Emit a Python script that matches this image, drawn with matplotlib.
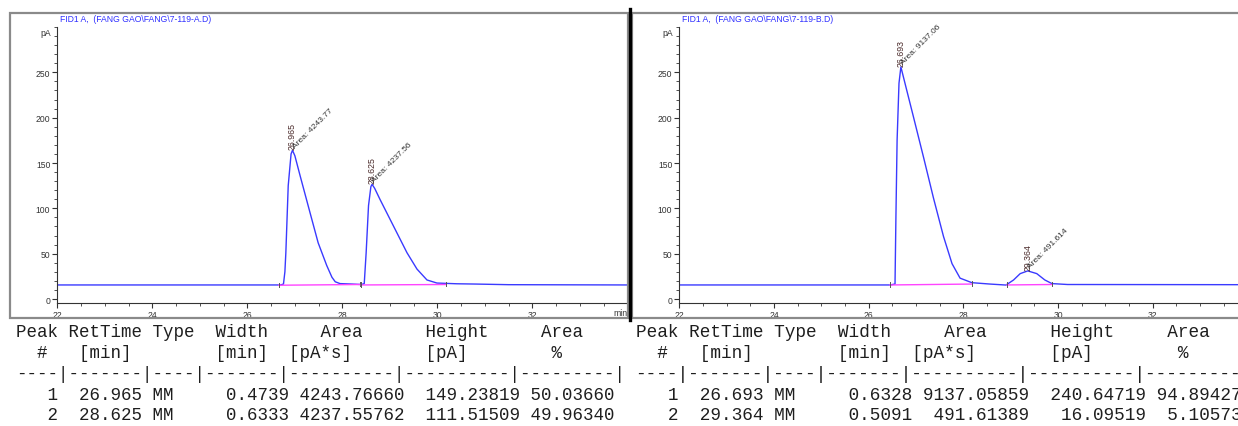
import matplotlib
matplotlib.use("Agg")
import matplotlib.pyplot as plt
from matplotlib.patches import Rectangle
from matplotlib.lines import Line2D
from matplotlib.ticker import MultipleLocator

W, H = 1238, 427

# ---- trace A (left) : retention time [min], signal [pA]
timeA = [22.0, 26.70, 26.76, 26.79, 26.81, 26.86, 26.92, 26.95, 27.00, 27.11, 27.32,
         27.49, 27.67, 27.78, 27.85, 27.95, 28.20, 28.40, 28.46, 28.50, 28.55, 28.60,
         28.625, 28.68, 28.79, 29.07, 29.36, 29.57, 29.78, 29.99, 30.41, 30.8, 31.5, 34.0]
sigA = [15.5, 15.5, 16.5, 30, 51, 125, 160, 164, 158, 136, 95,
        62, 37, 24, 19, 17, 16.5, 16, 17, 51, 103, 124,
        126.5, 122, 110, 81, 51, 33, 21, 17.6, 16.8, 16.5, 15.8, 15.5]
baseA = [[(26.66, 15.2), (28.38, 16.0)], [(28.40, 15.5), (30.18, 16.0)]]
peaksA_rt = ["26.965", "28.625"]
peaksA_area = ["Area: 4243.77", "Area: 4237.56"]
peaksA_pos = [(26.95, 164), (28.625, 126.5)]

# ---- trace B (right)
timeB = [22.0, 26.45, 26.556, 26.575, 26.60, 26.64, 26.68, 26.80, 26.94, 27.16, 27.37,
         27.58, 27.76, 27.93, 28.18, 28.56, 28.90, 29.06, 29.20, 29.36, 29.55, 29.72,
         29.87, 30.2, 33.8]
sigB = [15.5, 15.5, 16.5, 90, 175, 238, 256, 231, 202, 156, 111,
        69, 39, 23, 18, 16.5, 15.4, 21, 28, 31, 28, 21,
        17, 16, 15.8]
baseB = [[(26.45, 15.5), (28.18, 16.5)], [(28.92, 15.5), (29.87, 16.0)]]
peaksB_rt = ["26.693", "29.364"]
peaksB_area = ["Area: 9137.06", "Area: 491.614"]
peaksB_pos = [(26.68, 256), (29.36, 31)]

titles = ["FID1 A,  (FANG GAO\\FANG\\7-119-A.D)", "FID1 A,  (FANG GAO\\FANG\\7-119-B.D)"]

# ---- peak tables
tableA = [
    "Peak RetTime Type  Width     Area      Height     Area  ",
    "  #   [min]        [min]  [pA*s]       [pA]        %    ",
    "----|-------|----|-------|----------|----------|---------|",
    "   1  26.965 MM     0.4739 4243.76660  149.23819 50.03660",
    "   2  28.625 MM     0.6333 4237.55762  111.51509 49.96340",
]
tableB = [
    "Peak RetTime Type  Width     Area      Height     Area  ",
    "  #   [min]        [min]  [pA*s]       [pA]        %    ",
    "----|-------|----|-------|----------|----------|---------|",
    "   1  26.693 MM     0.6328 9137.05859  240.64719 94.89427",
    "   2  29.364 MM     0.5091  491.61389   16.09519  5.10573",
]


def fx(x):
    return x / W


def fy(y):
    return 1 - y / H


fig = plt.figure(figsize=(W / 100, H / 100), dpi=100)
fig.patch.set_facecolor("white")

# outer gray frames and the black divider
fig.add_artist(Rectangle((fx(10), fy(319)), fx(628) - fx(10), fy(14) - fy(319),
                         fill=False, edgecolor="#8a8a8a", linewidth=1.6,
                         transform=fig.transFigure))
fig.add_artist(Rectangle((fx(632), fy(319)), fx(1245) - fx(632), fy(14) - fy(319),
                         fill=False, edgecolor="#8a8a8a", linewidth=1.6,
                         transform=fig.transFigure))
fig.add_artist(Line2D([fx(629.5), fx(629.5)], [fy(10), fy(321)], color="black",
                      linewidth=2.4, transform=fig.transFigure))


def panel(left_px, right_px, xmax, t, s, bases, rts, areas, pos, title):
    ax = fig.add_axes([fx(left_px), fy(304), fx(right_px) - fx(left_px), fy(28) - fy(304)])
    ax.set_xlim(22, xmax)
    ax.set_ylim(-4.4, 300)
    ax.plot(t, s, color="#3a3aff", linewidth=1.0)
    for seg in bases:
        (x0, y0), (x1, y1) = seg
        ax.plot([x0, x1], [y0, y1], color="#ff44ff", linewidth=1.0)
        ax.plot([x0, x0], [y0 - 2, y0 + 3], color="#555555", linewidth=0.7)
        ax.plot([x1, x1], [y1 - 2, y1 + 3], color="#555555", linewidth=0.7)
    for rt, area, (px, py) in zip(rts, areas, pos):
        ax.text(px, py + 1, rt, rotation=90, ha="center", va="bottom",
                fontsize=6.3, color="#4a2a2a", family="Liberation Sans")
        ax.annotate(area, (px, py), xytext=(2.5, 1), textcoords="offset points",
                    rotation=45, rotation_mode="anchor", ha="left", va="bottom",
                    fontsize=6.1, color="#333333", family="Liberation Sans")
    for side in ("top", "right"):
        ax.spines[side].set_visible(False)
    for side in ("left", "bottom"):
        ax.spines[side].set_color("#333333")
        ax.spines[side].set_linewidth(0.8)
    ax.xaxis.set_major_locator(MultipleLocator(2))
    ax.xaxis.set_minor_locator(MultipleLocator(0.5))
    ax.yaxis.set_major_locator(MultipleLocator(50))
    ax.yaxis.set_minor_locator(MultipleLocator(10))
    ax.set_yticks([0, 50, 100, 150, 200, 250])
    ax.tick_params(which="major", length=3.5, width=0.8, colors="#333333",
                   labelsize=6.2, pad=1.5)
    ax.tick_params(which="minor", length=2, width=0.6, colors="#333333")
    for lab in ax.get_xticklabels() + ax.get_yticklabels():
        lab.set_family("Liberation Sans")
    ax.patch.set_alpha(0)
    fig.text(fx(left_px + 3), fy(19), title, color="#3030ff", fontsize=6.2,
             family="Liberation Sans", va="center", ha="left")
    fig.text(fx(left_px - 6), fy(33), "pA", color="#333333", fontsize=6.2,
             family="Liberation Sans", va="center", ha="right")
    return ax


panel(57.3, 627, 33.99, timeA, sigA, baseA, peaksA_rt, peaksA_area, peaksA_pos, titles[0])
panel(679.3, 1238, 33.80, timeB, sigB, baseB, peaksB_rt, peaksB_area, peaksB_pos, titles[1])
fig.text(fx(628), fy(313), "min", color="#333333", fontsize=6.2,
         family="Liberation Sans", va="center", ha="right")

rows_y = [333, 354, 374.5, 396, 416]
for x0, size, table in ((16.5, 12.62, tableA), (635.5, 12.8, tableB)):
    for yy, line in zip(rows_y, table):
        fig.text(fx(x0), fy(yy), line, family="Liberation Mono", fontsize=size,
                 color="#1e1e1e", va="center", ha="left")

fig.savefig("out.png", dpi=100)
